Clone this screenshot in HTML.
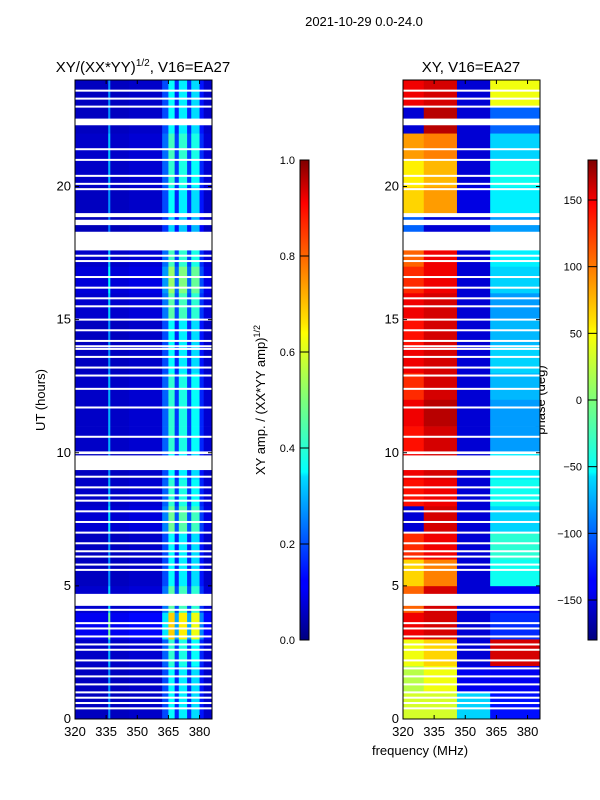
<!DOCTYPE html>
<html><head><meta charset="utf-8"><style>
body{margin:0;background:#fff;width:600px;height:800px;overflow:hidden}
svg{display:block}
text{font-family:"Liberation Sans","DejaVu Sans",sans-serif;fill:#000}
</style></head><body>
<svg id="fig" width="600" height="800" viewBox="0 0 600 800">
<defs>
<linearGradient id="jet" x1="0" y1="1" x2="0" y2="0">
<stop offset="0" stop-color="#00007f"/><stop offset="0.11" stop-color="#0000ff"/><stop offset="0.125" stop-color="#0000ff"/>
<stop offset="0.34" stop-color="#00dbff"/><stop offset="0.35" stop-color="#0ff"/><stop offset="0.5" stop-color="#7dff7a"/>
<stop offset="0.64" stop-color="#ff0"/><stop offset="0.66" stop-color="#ffe600"/><stop offset="0.89" stop-color="#ff1300"/>
<stop offset="0.91" stop-color="#f00"/><stop offset="1" stop-color="#7f0000"/>
</linearGradient>
</defs>
<text x="364" y="26" text-anchor="middle" font-size="13">2021-10-29 0.0-24.0</text>
<text x="143" y="72" text-anchor="middle" font-size="15">XY/(XX*YY)<tspan font-size="10" dy="-6">1/2</tspan><tspan dy="6">, V16=EA27</tspan></text>
<text x="471" y="72" text-anchor="middle" font-size="15">XY, V16=EA27</text>
<text transform="translate(45,400) rotate(-90)" text-anchor="middle" font-size="13">UT (hours)</text>
<text transform="translate(265,400) rotate(-90)" text-anchor="middle" font-size="13">XY amp. / (XX*YY amp)<tspan font-size="9" dy="-5">1/2</tspan></text>
<text transform="translate(545,400) rotate(-90)" text-anchor="middle" font-size="13">phase (deg)</text>
<text x="420" y="755" text-anchor="middle" font-size="13">frequency (MHz)</text>
<g id="left"></g>
<g id="right"></g>
<g id="axes"></g>
<rect x="300" y="160" width="9" height="480" fill="url(#jet)" stroke="#000" stroke-width="1"/>
<rect x="588" y="160" width="9" height="480" fill="url(#jet)" stroke="#000" stroke-width="1"/>
<g id="cbticks"></g>
</svg>
<script>
// ---- data ----
const freqEdges = [320,330,336,337,346,362,365,368,370,374,376,380,382,386];
const ampColProfile = [0.07,0.07,0.3,0.07,0.08,0.22,0.42,0.18,0.4,0.18,0.38,0.16,0.08];
const hours = [0,1,2,3,4,5,6,7,8,9,10,11,12,13,14,15,16,17,18,19,20,21,22,23];
const ampRowFactor = [0.9,0.9,1.0,1.6,1.1,0.9,0.9,1.15,1.0,0.9,1.0,1.0,1.0,0.9,0.9,1.1,1.25,1.05,0.8,0.9,1.0,1.05,0.9,0.9];
const phaseSegEdges = [320,330,346,362,386];
const phaseA = [30,20,40,140,100,60,120,-150,130,140,130,140,120,140,130,140,120,100,-100,60,50,80,-150,140];
const phaseB = [30,40,60,150,150,90,140,150,140,150,150,160,150,150,150,150,140,140,-150,80,70,90,160,150];
const phaseC = [-60,-140,-150,-150,-150,-150,-150,-150,-150,-150,-150,-150,-150,-150,-150,-150,-150,-150,-150,-145,-150,-150,-150,-150];
const phaseD = [-130,-140,150,-120,-140,-40,-30,-60,-40,-50,-80,-80,-70,-60,-70,-80,-60,-50,-80,-50,-40,-60,-100,40];
const gaps = [[22.3,22.55],[17.6,18.3],[18.55,18.75],[18.85,19.0],[9.35,9.9],[9.95,10.05],[4.25,4.7]];
const thinGaps = [23.6,23.3,23.0,21.4,21.0,20.4,20.1,19.9,17.4,17.2,16.6,16.2,15.8,15.5,15.0,14.6,14.2,14.0,13.9,13.6,13.2,12.9,12.4,11.7,10.6,9.1,8.7,8.4,8.2,7.8,7.4,7.0,6.6,6.3,6.1,5.8,5.6,4.1,3.6,3.4,3.1,2.8,2.6,2.2,1.9,1.6,1.3,1.0,0.8,0.6,0.4];
const yTicks = [0,5,10,15,20];
const xTicks = [320,335,350,365,380];
const ampTicks = [0.0,0.2,0.4,0.6,0.8,1.0];
const phaseTicks = [-150,-100,-50,0,50,100,150];
// ---- scales ----
const NS="http://www.w3.org/2000/svg";
const T=80,B=719,FMIN=320,FMAX=386;
const yS=h=>B-(h/24)*(B-T);
const xS=(x0,f)=>x0+(f-FMIN)/(FMAX-FMIN)*137;
function jet(v){v=Math.max(0,Math.min(1,v));
 const r=Math.min(4*v-1.5,-4*v+4.5),g=Math.min(4*v-0.5,-4*v+3.5),b=Math.min(4*v+0.5,-4*v+2.5);
 const c=x=>Math.round(255*Math.max(0,Math.min(1,x)));return `rgb(${c(r)},${c(g)},${c(b)})`;}
function mk(tag,attrs,parent){const e=document.createElementNS(NS,tag);for(const k in attrs)e.setAttribute(k,attrs[k]);parent.appendChild(e);return e;}
const L=document.getElementById('left'),R=document.getElementById('right'),A=document.getElementById('axes');
hours.forEach((h,i)=>{
 for(let c=0;c<ampColProfile.length;c++){
  const x1=xS(75,freqEdges[c]),x2=xS(75,freqEdges[c+1]);
  const r=mk('rect',{x:x1,y:yS(h+1),width:x2-x1+0.3,height:yS(h)-yS(h+1)+0.3,fill:jet(ampColProfile[c]*ampRowFactor[i])},L);
  
  
 }
 const segs=[phaseA[i],phaseB[i],phaseC[i],phaseD[i]];
 segs.forEach((p,s)=>{
  const x1=xS(403,phaseSegEdges[s]),x2=xS(403,phaseSegEdges[s+1]);
  const r=mk('rect',{x:x1,y:yS(h+1),width:x2-x1+0.3,height:yS(h)-yS(h+1)+0.3,fill:jet((p+180)/360)},R);
  
  
 });
});
[75,403].forEach(x0=>{
 const par=x0===75?L:R;
 gaps.forEach(g=>{const r=mk('rect',{x:x0,y:yS(g[1]),width:137,height:yS(g[0])-yS(g[1]),fill:'#fff'},par);
  });
 thinGaps.forEach(g=>{const r=mk('rect',{x:x0,y:yS(g)-1,width:137,height:2,fill:'#fff'},par);
  });
 const fr=mk('rect',{x:x0,y:T,width:137,height:B-T,fill:'none',stroke:'#000','stroke-width':1},A);
 
 yTicks.forEach(t=>{const y=yS(t);
  mk('line',{x1:x0,x2:x0+4,y1:y,y2:y,stroke:'#000'},A);mk('line',{x1:x0+133,x2:x0+137,y1:y,y2:y,stroke:'#000'},A);
  const tx=mk('text',{x:x0-4,y:y+4,'text-anchor':'end','font-size':13},A);tx.textContent=t;
  });
 xTicks.forEach(t=>{const x=xS(x0,t);
  mk('line',{x1:x,x2:x,y1:B,y2:B-4,stroke:'#000'},A);mk('line',{x1:x,x2:x,y1:T,y2:T+4,stroke:'#000'},A);
  const tx=mk('text',{x:x,y:B+17,'text-anchor':'middle','font-size':13},A);tx.textContent=t;
  });
});
const C=document.getElementById('cbticks');
ampTicks.forEach(t=>{const y=640-t*480;mk('line',{x1:300,x2:309,y1:y,y2:y,stroke:'#000'},C);
 const tx=mk('text',{x:295,y:y+4,'text-anchor':'end','font-size':11},C);tx.textContent=t.toFixed(1);
 });
phaseTicks.forEach(t=>{const y=640-(t+180)/360*480;mk('line',{x1:588,x2:597,y1:y,y2:y,stroke:'#000'},C);
 const tx=mk('text',{x:582,y:y+4,'text-anchor':'end','font-size':11},C);tx.textContent=(t<0?'\u2212':'')+Math.abs(t);
 });
</script>
</body></html>
